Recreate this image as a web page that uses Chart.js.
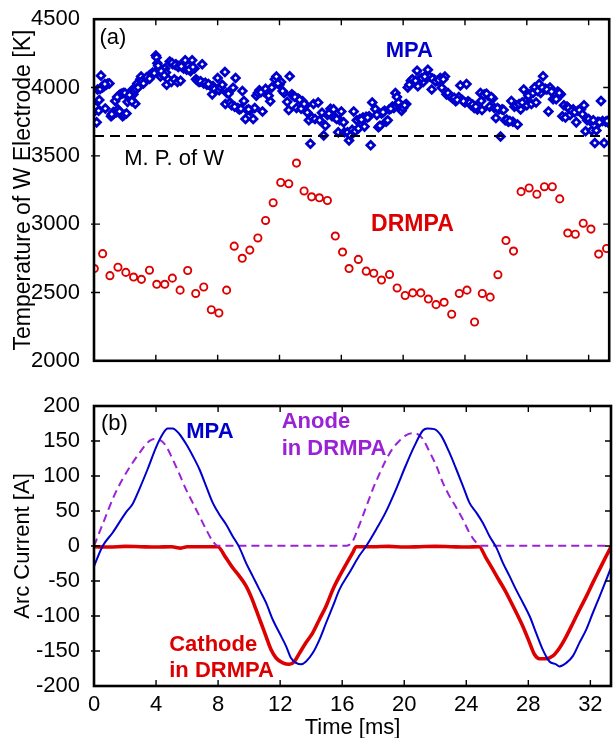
<!DOCTYPE html>
<html><head><meta charset="utf-8">
<script src="https://cdn.jsdelivr.net/npm/chart.js@4/dist/chart.umd.min.js"></script>
<style>
html,body{margin:0;padding:0;background:#fff;}
#wrap{position:relative;width:616px;height:738px;overflow:hidden;}
canvas{position:absolute;left:0;}
#ca{top:0;}
#cb{top:380px;}
</style></head><body>
<div id="wrap"><canvas id="ca" width="616" height="380"></canvas><canvas id="cb" width="616" height="358"></canvas></div>
<script>
// ---------------- DATA ----------------
const timeTicks = [0, 4, 8, 12, 16, 20, 24, 28, 32];
const tempTicks = [2000, 2500, 3000, 3500, 4000, 4500];
const currentTicks = [-200, -150, -100, -50, 0, 50, 100, 150, 200];
const meltingPointW = 3645;

// (a) MPA electrode temperature [ms, K]
const mpaTemp = [[0.02,3825],[0.1,3860],[0.17,3745],[0.23,3986],[0.3,3830],[0.34,3909],[0.45,4087],[0.55,4000],[0.65,4010],[0.73,3846],[0.8,4020],[0.9,4030],[1.0,4030],[1.2,3800],[1.25,3820],[1.3,3810],[1.37,3902],[1.45,3820],[1.55,3840],[1.6,3940],[1.7,3950],[1.8,3955],[1.85,3790],[1.9,3960],[1.95,3800],[2.0,3960],[2.1,3810],[2.17,3895],[2.25,3930],[2.4,3960],[2.5,3985],[2.55,3950],[2.6,3975],[2.67,3882],[2.7,3990],[2.8,4030],[2.9,4010],[3.0,4060],[3.05,4080],[3.15,4040],[3.25,4050],[3.35,4060],[3.45,4070],[3.55,4085],[3.65,4095],[3.75,4100],[3.8,4110],[4.0,4234],[4.05,4220],[4.1,4178],[4.2,4140],[4.3,4080],[4.4,4100],[4.5,4130],[4.6,4140],[4.65,4110],[4.7,4020],[4.8,4060],[4.9,4190],[5.0,4040],[5.1,4170],[5.2,4060],[5.3,4170],[5.4,4040],[5.5,4160],[5.6,4050],[5.7,4150],[5.8,4140],[5.9,4200],[6.0,4130],[6.1,4160],[6.25,4120],[6.35,4200],[6.5,4140],[6.6,4060],[6.7,4050],[6.8,4040],[7.0,4170],[7.1,4030],[7.3,4020],[7.5,4015],[7.65,3950],[7.7,4010],[7.8,3990],[8.0,4070],[8.1,3980],[8.2,4000],[8.3,4020],[8.47,4113],[8.5,3880],[8.6,3960],[8.7,3955],[8.8,3890],[9.0,3998],[9.16,4070],[9.3,3850],[9.4,3840],[9.6,3974],[9.7,3902],[9.8,3770],[9.9,3835],[10.1,3830],[10.3,3770],[10.4,3850],[10.5,3940],[10.6,3960],[10.7,3980],[10.9,3825],[11.0,3970],[11.1,3990],[11.2,3950],[11.4,3900],[11.7,4060],[11.8,4080],[12.0,4020],[12.1,4040],[12.3,3960],[12.5,3895],[12.6,3835],[12.66,4082],[12.8,3950],[12.9,3940],[13.1,3850],[13.2,3920],[13.4,3845],[13.5,3900],[13.7,3870],[13.8,3817],[13.9,3760],[14.0,3589],[14.1,3780],[14.2,3880],[14.3,3770],[14.5,3890],[14.6,3760],[14.75,3815],[14.86,3649],[14.97,3721],[15.1,3800],[15.3,3845],[15.4,3790],[15.5,3840],[15.6,3780],[15.8,3673],[15.9,3760],[16.0,3825],[16.15,3745],[16.2,3673],[16.4,3673],[16.5,3613],[16.6,3649],[16.7,3690],[16.8,3825],[16.9,3680],[17.0,3760],[17.1,3700],[17.2,3770],[17.4,3780],[17.5,3714],[17.6,3785],[17.8,3790],[17.9,3577],[18.0,3890],[18.2,3842],[18.4,3710],[18.5,3720],[18.6,3810],[18.8,3830],[18.9,3750],[19.0,3760],[19.1,3840],[19.3,3860],[19.4,3850],[19.5,3960],[19.6,3930],[19.7,3890],[19.9,3830],[20.0,3850],[20.2,3880],[20.3,4000],[20.5,4050],[20.7,4040],[20.9,4123],[20.95,4010],[21.1,4060],[21.3,4040],[21.5,4070],[21.6,4130],[21.7,4080],[21.85,3986],[22.0,4060],[22.2,4050],[22.4,4070],[22.5,3998],[22.7,4080],[22.8,3950],[23.0,3940],[23.2,3920],[23.4,3900],[23.6,3930],[23.7,4015],[23.8,3910],[24.0,3890],[24.1,4025],[24.2,3900],[24.4,3870],[24.6,3850],[24.8,3840],[25.0,3960],[25.05,3902],[25.1,3835],[25.3,3950],[25.5,3940],[25.6,3860],[25.8,3920],[25.9,3850],[26.0,3777],[26.2,3840],[26.3,3642],[26.4,3840],[26.6,3760],[26.8,3750],[27.0,3902],[27.1,3750],[27.2,3860],[27.4,3730],[27.6,3840],[27.8,3986],[27.9,3900],[28.0,3870],[28.2,3950],[28.3,3880],[28.5,4000],[28.6,3890],[28.8,4025],[28.9,3960],[29.05,4082],[29.2,3990],[29.4,3825],[29.5,4000],[29.7,3915],[29.8,3960],[29.9,3915],[30.0,3970],[30.2,3950],[30.3,3790],[30.4,3870],[30.5,3780],[30.6,3860],[30.8,3800],[31.0,3840],[31.2,3745],[31.3,3830],[31.5,3840],[31.7,3870],[31.8,3680],[31.9,3760],[32.1,3755],[32.2,3685],[32.4,3594],[32.5,3685],[32.6,3750],[32.8,3902],[32.9,3755],[33.0,3594],[33.1,3750],[33.25,3745],
  [0.4,3990],[0.6,4015],[0.7,4025],[1.1,3790],[1.15,3805],[1.5,3930],[1.65,3825],[2.3,3945],[2.45,3900],[2.85,4000],[3.1,4045],[3.2,4030],[3.4,4075],[3.6,4065],[3.9,4105],[4.15,4160],[4.35,4120],[4.55,4090],[5.05,4180],[5.25,4165],[5.45,4150],[5.65,4155],[6.15,4130],[6.4,4150],[6.9,4045],[7.2,4035],[7.4,4025],[8.9,3870],[9.1,3860],[9.5,3845],[10.0,3840],[10.8,3965],[11.3,3940],[11.5,4000],[11.9,4030],[12.2,3975],[13.0,3930],[13.3,3910],[13.6,3880],[15.2,3810],[15.7,3770],[17.3,3765],[17.7,3780],[18.3,3800],[18.7,3820],[19.2,3845],[20.1,3870],[20.4,4020],[20.6,4060],[20.8,4050],[21.2,4070],[21.4,4080],[21.9,4065],[22.1,4045],[22.3,4055],[22.6,4060],[22.9,3960],[23.1,3930],[23.3,3925],[23.5,3910],[23.9,3900],[24.3,3890],[24.5,3875],[24.7,3860],[25.2,3945],[25.4,3955],[25.7,3930],[26.1,3850],[26.5,3835],[26.7,3765],[26.9,3755],[27.3,3870],[27.5,3880],[27.7,3890],[28.1,3940],[28.4,3960],[28.7,3975],[29.0,4000],[29.3,3985],[29.6,3970],[30.1,3960],[30.7,3850],[30.9,3830],[31.1,3820],[31.4,3835],[31.6,3805],[32.0,3770],[32.3,3760],[32.7,3745],[33.2,3755]];

// (a) DRMPA electrode temperature [ms, K]
const drmpaTemp = [[0.02,2675],[0.56,2784],[1.03,2623],[1.55,2685],[2.06,2647],[2.56,2613],[3.07,2596],[3.59,2663],[4.06,2560],[4.58,2560],[5.07,2605],[5.57,2517],[6.06,2661],[6.58,2493],[7.1,2540],[7.59,2374],[8.08,2350],[8.58,2517],[9.07,2839],[9.59,2750],[10.08,2810],[10.6,2899],[11.1,3027],[11.59,3157],[12.08,3305],[12.6,3296],[13.1,3447],[13.59,3243],[14.08,3200],[14.58,3193],[15.1,3173],[15.61,2913],[16.08,2796],[16.5,2675],[17.1,2742],[17.61,2656],[18.1,2641],[18.6,2591],[19.12,2632],[19.61,2533],[20.13,2478],[20.62,2497],[21.14,2497],[21.63,2452],[22.13,2411],[22.65,2428],[23.14,2341],[23.63,2493],[24.13,2517],[24.62,2284],[25.12,2493],[25.63,2466],[26.13,2630],[26.65,2880],[27.14,2803],[27.63,3238],[28.15,3265],[28.65,3219],[29.14,3274],[29.65,3274],[30.13,3185],[30.65,2935],[31.14,2926],[31.65,3007],[32.15,2964],[32.65,2781],[33.16,2822]];

// (b) Arc current [ms, A]
const mpaCurrent = [[0,-29],[0.56,0],[1.2,19],[2.06,48],[2.49,60],[2.92,81],[3.46,110],[4.0,141],[4.43,160],[4.75,168],[5.07,168],[5.5,160],[5.93,146],[6.36,129],[6.79,110],[7.22,86],[7.65,62],[8.08,45],[8.51,31],[8.94,14],[9.37,-2],[9.8,-24],[10.23,-43],[10.66,-62],[11.09,-81],[11.52,-105],[11.95,-124],[12.38,-143],[12.7,-160],[13.03,-167],[13.35,-169],[13.67,-165],[14.1,-153],[14.53,-134],[14.96,-110],[15.4,-86],[15.83,-62],[16.47,-38],[17.1,-14],[17.55,0],[18.2,24],[18.8,48],[19.47,81],[20.1,115],[20.66,143],[21.2,165],[21.5,168],[21.94,167],[22.37,158],[22.9,134],[23.35,110],[23.78,86],[24.2,62],[24.64,48],[25.07,33],[25.5,14],[25.93,-2],[26.36,-24],[26.79,-43],[27.2,-62],[27.65,-81],[28.08,-100],[28.5,-124],[28.93,-148],[29.36,-165],[29.79,-169],[30.0,-172],[30.45,-167],[30.88,-157],[31.3,-138],[31.74,-119],[32.17,-95],[32.6,-72],[33.03,-48],[33.33,-31]];
const anodeCurrent = [[0,0],[0.34,19],[0.77,43],[1.3,72],[1.85,96],[2.49,119],[3.03,136],[3.46,148],[3.89,153],[4.21,152],[4.64,143],[5.07,124],[5.5,103],[5.93,81],[6.36,62],[6.79,43],[7.22,24],[7.65,7],[7.97,0.5],[10,0.5],[12,0.5],[14,0.5],[16.3,0.5],[16.68,7],[17.0,24],[17.33,43],[17.65,62],[17.97,81],[18.4,103],[18.8,122],[19.25,139],[19.68,150],[20.1,158],[20.53,161],[20.85,160],[21.2,153],[21.6,136],[22.06,115],[22.48,91],[22.9,72],[23.35,55],[23.78,38],[24.2,19],[24.64,5],[24.97,0.5],[28,0.5],[33.33,0.5]];
const cathodeCurrent = [[0,-1],[1,-1.5],[2,-0.5],[3,-1],[4,-1.5],[5,-1],[5.6,-3],[6,-1],[7,-1],[7.97,-1],[8.51,-17],[8.94,-31],[9.37,-43],[9.8,-57],[10.12,-72],[10.45,-91],[10.77,-110],[11.09,-129],[11.41,-148],[11.74,-160],[12.17,-167],[12.6,-169],[12.92,-165],[13.25,-153],[13.67,-138],[14.1,-124],[14.53,-105],[14.96,-86],[15.4,-62],[15.83,-43],[16.26,-26],[16.68,-9.5],[16.9,-1],[18,-1],[19,-0.5],[20,-1.5],[21,-1],[22,-0.5],[23,-1],[24,-1.5],[24.83,-1],[25.27,-17],[25.7,-33],[26.14,-50],[26.46,-62],[26.79,-76],[27.22,-95],[27.65,-115],[28.08,-138],[28.4,-155],[28.72,-161],[29.15,-161],[29.58,-157],[30.0,-146],[30.45,-129],[30.88,-110],[31.3,-91],[31.74,-72],[32.17,-52],[32.6,-33],[33.03,-14],[33.33,-1]];

const xMin = 0, xMax = 33.33;

// ---------------- STYLE ----------------
const FONT = "'Liberation Sans', Arial, Helvetica, sans-serif";
const BLUE = '#0000CC', RED = '#DD0000', PURPLE = '#9A22D6';
Chart.defaults.font.family = FONT;
Chart.defaults.color = '#000';

const toXY = arr => arr.map(p => ({x: p[0], y: p[1]}));

const frame = {
  id: 'frame',
  afterDraw(chart) {
    const {ctx, chartArea: a, scales: {x, y}} = chart;
    ctx.save();
    ctx.strokeStyle = '#000';
    ctx.lineWidth = 1.4;
    const L = 6;
    ctx.beginPath();
    x.ticks.forEach(t => {
      const p = x.getPixelForValue(t.value);
      if (p <= a.left + 2 || p >= a.right - 2) return;
      ctx.moveTo(p, a.bottom); ctx.lineTo(p, a.bottom - L);
      ctx.moveTo(p, a.top); ctx.lineTo(p, a.top + L);
    });
    y.ticks.forEach(t => {
      const p = y.getPixelForValue(t.value);
      if (p <= a.top + 2 || p >= a.bottom - 2) return;
      ctx.moveTo(a.left - 3, p); ctx.lineTo(a.left + L, p);
      ctx.moveTo(a.right, p); ctx.lineTo(a.right - L, p);
    });
    ctx.stroke();
    ctx.lineWidth = 2.6;
    ctx.strokeRect(a.left, a.top, a.right - a.left, a.bottom - a.top);
    ctx.restore();
  }
};

const notes = {
  id: 'notes',
  afterDatasetsDraw(chart, args, opts) {
    const {ctx, scales: {x, y}} = chart;
    ctx.save();
    (opts.items || []).forEach(it => {
      ctx.font = it.font;
      ctx.fillStyle = it.color;
      ctx.textAlign = it.align || 'left';
      ctx.textBaseline = 'middle';
      ctx.fillText(it.text, x.getPixelForValue(it.x), y.getPixelForValue(it.y));
    });
    ctx.restore();
  }
};

function xScale(showLabels) {
  return {
    type: 'linear', min: xMin, max: xMax,
    afterBuildTicks: s => { s.ticks = timeTicks.map(v => ({value: v})); },
    ticks: { display: showLabels, font: {size: 22}, padding: -2, color: '#000', callback: v => String(v) },
    grid: { display: false },
    border: { display: false },
    title: { display: showLabels, text: 'Time [ms]', font: {size: 22}, padding: {top: 0, bottom: -3}, color: '#000' },
    afterFit: s => { s.height = showLabels ? 52 : 0; }
  };
}
function yScale(min, max, ticks, title, titleSize) {
  return {
    type: 'linear', min: min, max: max,
    afterBuildTicks: s => { s.ticks = ticks.map(v => ({value: v})); },
    ticks: { font: {size: 22}, padding: 6, color: '#000', callback: v => String(v) },
    grid: { display: false },
    border: { display: false },
    title: { display: true, text: title, font: {size: titleSize}, padding: {top: 10, bottom: 0}, color: '#000' },
    afterFit: s => { s.width = 94; }
  };
}

// ---------------- PANEL (a) ----------------
new Chart(document.getElementById('ca'), {
  type: 'scatter',
  data: {
    datasets: [
      { label: 'M. P. of W', type: 'line', data: [{x: xMin, y: meltingPointW}, {x: xMax, y: meltingPointW}],
        borderColor: '#000', borderWidth: 2, borderDash: [10, 6], pointRadius: 0, fill: false },
      { label: 'MPA', data: toXY(mpaTemp), pointStyle: 'rectRot', radius: 3.8,
        borderColor: BLUE, backgroundColor: '#fff', borderWidth: 2.8 },
      { label: 'DRMPA', data: toXY(drmpaTemp), pointStyle: 'circle', radius: 3.6,
        borderColor: RED, backgroundColor: 'rgba(255,255,255,0)', borderWidth: 1.9 }
    ]
  },
  options: {
    responsive: false, animation: false, devicePixelRatio: 1,
    layout: { padding: {top: 16, right: 5, bottom: 16, left: 0} },
    scales: { x: xScale(false), y: yScale(2000, 4500, tempTicks, 'Temperature of W Electrode [K]', 23) },
    plugins: {
      legend: {display: false}, tooltip: {enabled: false},
      notes: { items: [
        {text: '(a)', x: 0.35, y: 4365, font: `22px ${FONT}`, color: '#000'},
        {text: 'MPA', x: 20.4, y: 4268, font: `bold 22px ${FONT}`, color: BLUE, align: 'center'},
        {text: 'M. P. of W', x: 1.95, y: 3478, font: `22px ${FONT}`, color: '#000'},
        {text: 'DRMPA', x: 20.6, y: 3000, font: `bold 23px ${FONT}`, color: RED, align: 'center'}
      ]}
    }
  },
  plugins: [notes, frame]
});

// ---------------- PANEL (b) ----------------
new Chart(document.getElementById('cb'), {
  type: 'scatter',
  data: {
    datasets: [
      { label: 'MPA', data: toXY(mpaCurrent), showLine: true, pointRadius: 0,
        borderColor: BLUE, borderWidth: 2, cubicInterpolationMode: 'monotone', fill: false },
      { label: 'Anode in DRMPA', data: toXY(anodeCurrent), showLine: true, pointRadius: 0,
        borderColor: PURPLE, borderWidth: 2, borderDash: [8, 5], cubicInterpolationMode: 'monotone', fill: false },
      { label: 'Cathode in DRMPA', data: toXY(cathodeCurrent), showLine: true, pointRadius: 0,
        borderColor: RED, borderWidth: 3.6, cubicInterpolationMode: 'monotone', fill: false }
    ]
  },
  options: {
    responsive: false, animation: false, devicePixelRatio: 1,
    layout: { padding: {top: 26, right: 5, bottom: 0, left: 0} },
    scales: { x: xScale(true), y: yScale(-200, 200, currentTicks, 'Arc Current [A]', 22) },
    plugins: {
      legend: {display: false}, tooltip: {enabled: false},
      notes: { items: [
        {text: '(b)', x: 0.45, y: 174, font: `22px ${FONT}`, color: '#000'},
        {text: 'MPA', x: 5.95, y: 163, font: `bold 22px ${FONT}`, color: BLUE},
        {text: 'Anode', x: 12.1, y: 177, font: `bold 22px ${FONT}`, color: PURPLE},
        {text: 'in DRMPA', x: 12.1, y: 138.5, font: `bold 22px ${FONT}`, color: PURPLE},
        {text: 'Cathode', x: 4.85, y: -141, font: `bold 22px ${FONT}`, color: RED},
        {text: 'in DRMPA', x: 4.85, y: -179, font: `bold 22px ${FONT}`, color: RED}
      ]}
    }
  },
  plugins: [notes, frame]
});
</script>
</body></html>
